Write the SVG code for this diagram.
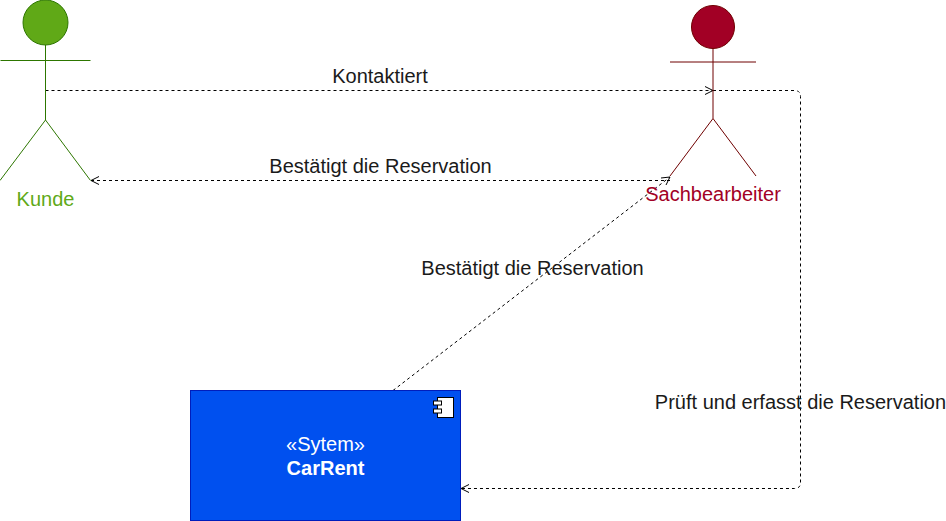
<svg xmlns="http://www.w3.org/2000/svg" width="946" height="521" viewBox="0 0 946 521">
<style>
text{font-family:"Liberation Sans",Arial,sans-serif;font-size:20px;fill:#1a1a1a}
.c{text-anchor:middle}
.conn{fill:none;stroke:#000;stroke-width:1;stroke-dasharray:3 3}
.head{fill:none;stroke:#000;stroke-width:1}
.k{fill:none;stroke:#2D7600}
.s{fill:none;stroke:#6F0000}
</style>
<rect width="946" height="521" fill="#fff"/>
<g id="connectors">
<path class="conn" d="M45.500 90.500H712.500"/>
<path class="head" d="M705 86.500L713 90.500L705 94.500"/>
<path class="conn" d="M713 90.500H794.500Q800.500 90.500 800.500 96.500V482.500Q800.500 488.500 794.500 488.500H461"/>
<path class="head" d="M469 484.500L461 488.500L469 492.500"/>
<path class="conn" d="M670 180.500H91"/>
<path class="head" d="M99 176.500L91 180.500L99 184.500"/>
<path class="conn" d="M393 390.500L670 177"/>
<path class="head" d="M661 178L670 177L666 185"/>
</g>
<g id="kunde">
<circle cx="45.500" cy="22.500" r="22.500" fill="#60A917" stroke="#2D7600"/>
<path class="k" d="M45.500 45V120M0.500 60.500H90.500M0 180.500L45.500 120L90.500 180.500"/>
<text class="c" x="45.500" y="206" style="fill:#60A917">Kunde</text>
</g>
<g id="sachbearbeiter">
<circle cx="713" cy="27" r="21.500" fill="#A20025" stroke="#6F0000"/>
<path class="s" d="M713 48.500V118.500M670 62H756M670 176L713 118.500L756 176"/>
<text class="c" x="713" y="201" style="fill:#A20025">Sachbearbeiter</text>
</g>
<g id="carrent">
<rect x="190.500" y="390.500" width="270" height="130" fill="#0050EF" stroke="#001DBC"/>
<rect x="437.500" y="397.500" width="16" height="20" fill="#fff" stroke="#000"/>
<rect x="433.500" y="401" width="8" height="4" fill="#fff" stroke="#000"/>
<rect x="433.500" y="409" width="8" height="4" fill="#fff" stroke="#000"/>
<text class="c" x="325.500" y="451" style="fill:#fff">«Sytem»</text>
<text class="c" x="325.500" y="475" style="fill:#fff;font-weight:bold">CarRent</text>
</g>
<g id="labels">
<text class="c" x="380" y="83">Kontaktiert</text>
<text class="c" x="380.500" y="173">Bestätigt die Reservation</text>
<text class="c" x="532.500" y="275">Bestätigt die Reservation</text>
<text class="c" x="800.500" y="409">Prüft und erfasst die Reservation</text>
</g>
</svg>
